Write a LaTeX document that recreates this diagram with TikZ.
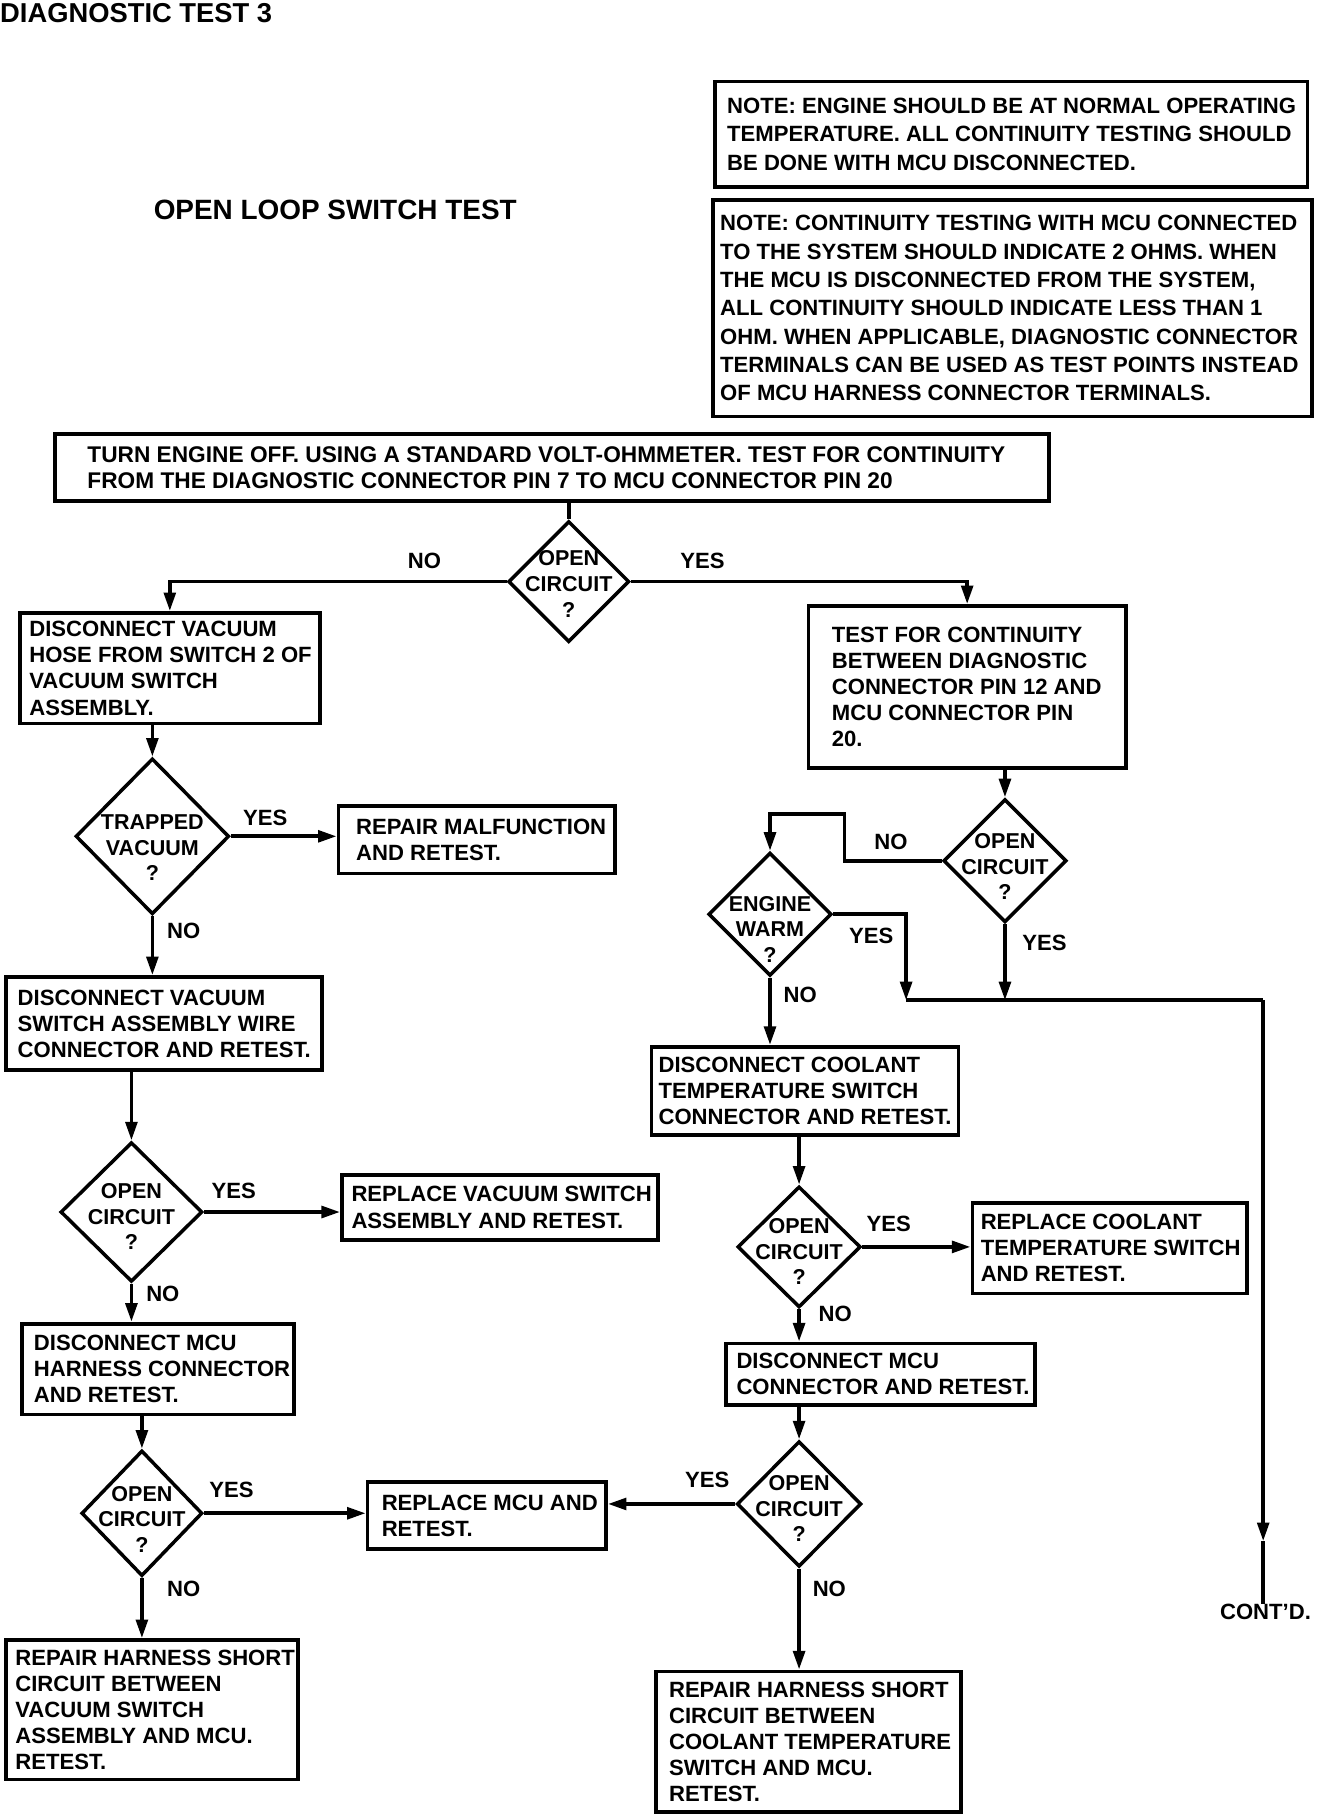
\documentclass[tikz,border=0pt]{standalone}
\usepackage{fontspec}
\setmainfont{Liberation Sans}
\usetikzlibrary{shapes.geometric,arrows.meta}
\tikzset{
  line/.style={line width=3.2pt},
  flow/.style={line width=3.2pt, -{Triangle[length=16pt,width=10pt]}},
  stepbox/.style={draw, line width=3.2pt, inner sep=0pt},
  steptext/.style={anchor=west, align=left, inner sep=0pt, font=\fontsize{19}{22.5}\selectfont\bfseries},
  notetext/.style={anchor=west, align=left, inner sep=0pt, font=\fontsize{19}{24.4}\selectfont\bfseries},
  decision/.style={draw, diamond, line width=3pt, inner sep=0pt},
  dtext/.style={align=center, inner sep=0pt, font=\fontsize{18.5}{22}\selectfont\bfseries},
  answer/.style={inner sep=0pt, font=\fontsize{19}{22}\selectfont\bfseries}
}
\begin{document}
\begin{tikzpicture}[x=1pt, y=-1pt]

\path [fill=white, use as bounding box] (0,0) rectangle (1142,1563);

\node [anchor=base west, inner sep=0pt, font=\fontsize{23.5}{26}\selectfont\bfseries] (title) at (0,19) {DIAGNOSTIC TEST 3};
\node [anchor=base west, inner sep=0pt, font=\fontsize{24}{26}\selectfont\bfseries] (subtitle) at (132,189) {OPEN LOOP SWITCH TEST};

\node [stepbox, minimum width=509pt, minimum height=91pt] (note1) at (869.5,115.5) {};
\node [notetext] (note1t) at (625,115.5) {NOTE: ENGINE SHOULD BE AT NORMAL OPERATING\\TEMPERATURE. ALL CONTINUITY TESTING SHOULD\\BE DONE WITH MCU DISCONNECTED.};
\node [stepbox, minimum width=515pt, minimum height=186pt] (note2) at (870.5,265) {};
\node [notetext] (note2t) at (619,265) {NOTE: CONTINUITY TESTING WITH MCU CONNECTED\\TO THE SYSTEM SHOULD INDICATE 2 OHMS. WHEN\\THE MCU IS DISCONNECTED FROM THE SYSTEM,\\ALL CONTINUITY SHOULD INDICATE LESS THAN 1\\OHM. WHEN APPLICABLE, DIAGNOSTIC CONNECTOR\\TERMINALS CAN BE USED AS TEST POINTS INSTEAD\\OF MCU HARNESS CONNECTOR TERMINALS.};

\node [stepbox, minimum width=855pt, minimum height=58pt] (tbox) at (474.5,402) {};
\node [steptext, font=\fontsize{19.5}{22.5}\selectfont\bfseries] (tboxt) at (75,402) {TURN ENGINE OFF. USING A STANDARD VOLT-OHMMETER. TEST FOR CONTINUITY\\FROM THE DIAGNOSTIC CONNECTOR PIN 7 TO MCU CONNECTOR PIN 20};

\node [decision, minimum width=104pt, minimum height=104pt] (open1) at (489,500) {};
\node [dtext] (open1t) at ([yshift=-2pt]open1.center) {OPEN\\CIRCUIT\\?};

\node [stepbox, minimum width=258pt, minimum height=95pt] (vachose) at (146,574.5) {};
\node [steptext] (vachoset) at (25,574.5) {DISCONNECT VACUUM\\HOSE FROM SWITCH 2 OF\\VACUUM SWITCH\\ASSEMBLY.};
\node [decision, minimum width=132pt, minimum height=134pt] (trapvac) at (131,719) {};
\node [dtext] (trapvact) at ([yshift=-10pt]trapvac.center) {TRAPPED\\VACUUM\\?};
\node [stepbox, minimum width=238pt, minimum height=58pt] (repmal) at (410,722) {};
\node [steptext] (repmalt) at (306,722) {REPAIR MALFUNCTION\\AND RETEST.};
\node [stepbox, minimum width=272pt, minimum height=80pt] (vacwire) at (141,880) {};
\node [steptext] (vacwiret) at (15,880) {DISCONNECT VACUUM\\SWITCH ASSEMBLY WIRE\\CONNECTOR AND RETEST.};
\node [decision, minimum width=122pt, minimum height=120pt] (open2) at (113,1042) {};
\node [dtext] (open2t) at ([yshift=-4pt]open2.center) {OPEN\\CIRCUIT\\?};
\node [stepbox, minimum width=272pt, minimum height=56pt] (repvac) at (430,1038) {};
\node [steptext] (repvact) at (302,1038) {REPLACE VACUUM SWITCH\\ASSEMBLY AND RETEST.};
\node [stepbox, minimum width=234pt, minimum height=78pt] (mcuharn) at (136,1177) {};
\node [steptext] (mcuharnt) at (29,1177) {DISCONNECT MCU\\HARNESS CONNECTOR\\AND RETEST.};
\node [decision, minimum width=104pt, minimum height=108pt] (open3) at (122,1301) {};
\node [dtext] (open3t) at ([yshift=-5pt]open3.center) {OPEN\\CIRCUIT\\?};
\node [stepbox, minimum width=205pt, minimum height=58pt] (repmcu) at (418.5,1303) {};
\node [steptext] (repmcut) at (328,1303) {REPLACE MCU AND\\RETEST.};
\node [stepbox, minimum width=251pt, minimum height=120pt] (shortvac) at (130.5,1470) {};
\node [steptext] (shortvact) at (13,1470) {REPAIR HARNESS SHORT\\CIRCUIT BETWEEN\\VACUUM SWITCH\\ASSEMBLY AND MCU.\\RETEST.};

\node [stepbox, minimum width=273pt, minimum height=139pt] (pin12) at (831.5,590.5) {};
\node [steptext] (pin12t) at (715,590.5) {TEST FOR CONTINUITY\\BETWEEN DIAGNOSTIC\\CONNECTOR PIN 12 AND\\MCU CONNECTOR PIN\\20.};
\node [decision, minimum width=106pt, minimum height=106pt] (open4) at (864,740) {};
\node [dtext] (open4t) at ([yshift=-5pt]open4.center) {OPEN\\CIRCUIT\\?};
\node [decision, minimum width=106pt, minimum height=106pt] (engwarm) at (662,786) {};
\node [dtext] (engwarmt) at ([yshift=-13pt]engwarm.center) {ENGINE\\WARM\\?};
\node [stepbox, minimum width=264pt, minimum height=76pt] (coolsw) at (692,938) {};
\node [steptext] (coolswt) at (566,938) {DISCONNECT COOLANT\\TEMPERATURE SWITCH\\CONNECTOR AND RETEST.};
\node [decision, minimum width=106pt, minimum height=104pt] (open5) at (687,1072) {};
\node [dtext] (open5t) at ([yshift=-4pt]open5.center) {OPEN\\CIRCUIT\\?};
\node [stepbox, minimum width=236pt, minimum height=78pt] (repcool) at (954,1073) {};
\node [steptext] (repcoolt) at (843,1073) {REPLACE COOLANT\\TEMPERATURE SWITCH\\AND RETEST.};
\node [stepbox, minimum width=266pt, minimum height=53pt] (mcuconn) at (757,1181.5) {};
\node [steptext] (mcuconnt) at (633,1181.5) {DISCONNECT MCU\\CONNECTOR AND RETEST.};
\node [decision, minimum width=107pt, minimum height=108pt] (open6) at (687,1293) {};
\node [dtext] (open6t) at ([yshift=-4pt]open6.center) {OPEN\\CIRCUIT\\?};
\node [stepbox, minimum width=262pt, minimum height=121pt] (shortcool) at (695,1497.5) {};
\node [steptext] (shortcoolt) at (575,1497.5) {REPAIR HARNESS SHORT\\CIRCUIT BETWEEN\\COOLANT TEMPERATURE\\SWITCH AND MCU.\\RETEST.};
\node [answer] (contd) at (1088,1386) {CONT'D.};

\coordinate (bend1) at (726,700);
\coordinate (jn1) at (779,860);
\coordinate (jn2) at (1086,860);
\coordinate (cd1) at (1086,1325);

\node [answer] (no1) at (365,482) {NO};
\node [answer] (yes1) at (604,482) {YES};
\node [answer] (yes2) at (228,703) {YES};
\node [answer] (no2) at (158,800) {NO};
\node [answer] (yes3) at (201,1024) {YES};
\node [answer] (no3) at (140,1112) {NO};
\node [answer] (yes4) at (199,1281) {YES};
\node [answer] (no4) at (158,1366) {NO};
\node [answer] (no5) at (766,724) {NO};
\node [answer] (yes5) at (898,811) {YES};
\node [answer] (yes6) at (749,805) {YES};
\node [answer] (no6) at (688,855) {NO};
\node [answer] (yes7) at (764,1052) {YES};
\node [answer] (no7) at (718,1130) {NO};
\node [answer] (yes8) at (608,1272) {YES};
\node [answer] (no8) at (713,1366) {NO};

\draw [line] (tbox.south -| open1.north) -- (open1.north);
\draw [flow] (open1.west) -| (vachose.north);
\draw [flow] (open1.east) -| (pin12.north);
\draw [flow] (vachose.south -| trapvac.north) -- (trapvac.north);
\draw [flow] (trapvac.east) -- (trapvac.east -| repmal.west);
\draw [flow] (trapvac.south) -- (trapvac.south |- vacwire.north);
\draw [flow] (vacwire.south -| open2.north) -- (open2.north);
\draw [flow] (open2.east) -- (open2.east -| repvac.west);
\draw [flow] (open2.south) -- (open2.south |- mcuharn.north);
\draw [flow] (mcuharn.south -| open3.north) -- (open3.north);
\draw [flow] (open3.east) -- (open3.east -| repmcu.west);
\draw [flow] (open3.south) -- (open3.south |- shortvac.north);
\draw [flow] (pin12.south -| open4.north) -- (open4.north);
\draw [flow] (open4.west) -| (bend1) -| (engwarm.north);
\draw [flow] (open4.south) -- (open4.south |- jn1);
\draw [flow] (engwarm.east) -| (jn1);
\draw [line] (jn1) -- (jn2);
\draw [flow] (jn2) -- (cd1);
\draw [line] (cd1) -- (cd1 |- contd.north);
\draw [flow] (engwarm.south) -- (engwarm.south |- coolsw.north);
\draw [flow] (coolsw.south -| open5.north) -- (open5.north);
\draw [flow] (open5.east) -- (open5.east -| repcool.west);
\draw [flow] (open5.south) -- (open5.south |- mcuconn.north);
\draw [flow] (mcuconn.south -| open6.north) -- (open6.north);
\draw [flow] (open6.west) -- (open6.west -| repmcu.east);
\draw [flow] (open6.south) -- (open6.south |- shortcool.north);
\end{tikzpicture}
\end{document}
